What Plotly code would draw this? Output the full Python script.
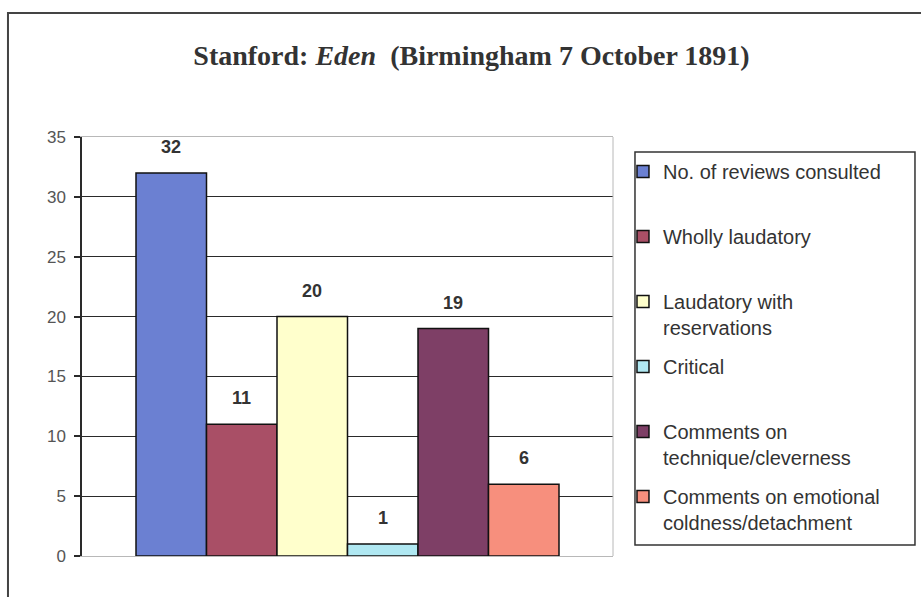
import plotly.graph_objects as go

# review counts for Stanford's Eden, one bar per category
categories = [
    "No. of reviews consulted",
    "Wholly laudatory",
    "Laudatory with<br>reservations",
    "Critical",
    "Comments on<br>technique/cleverness",
    "Comments on emotional<br>coldness/detachment",
]
counts = [32, 11, 20, 1, 19, 6]
colors = ["#6B80D2", "#A94F66", "#FFFFCC", "#B0E8F2", "#7E3F66", "#F78F7D"]
y_ticks = [0, 5, 10, 15, 20, 25, 30, 35]

fig = go.Figure()

for i, (name, val, col) in enumerate(zip(categories, counts, colors)):
    # pad single-line entries to two lines so every legend entry has the same height
    label = name if "<br>" in name else name + "<br>\u00a0"
    fig.add_trace(go.Bar(
        x=[i], y=[val], name=label, width=1,
        marker=dict(color=col, line=dict(color="#111111", width=1.5)),
        legendgroup=str(i), hoverinfo="y",
    ))
    fig.add_annotation(
        x=i, y=val, text=str(val), showarrow=False, yshift=26,
        font=dict(family="Liberation Sans, Arial", size=18, color="#333333", weight="bold"),
    )

n = len(counts)
pad = 0.766

fig.update_layout(
    width=921, height=597,
    margin=dict(l=82, r=308, t=137, b=41),
    paper_bgcolor="white", plot_bgcolor="white",
    barmode="overlay",
    title=dict(
        text="Stanford: <i>Eden</i>  (Birmingham 7 October 1891)",
        x=471.5 / 921, xref="container", xanchor="center",
        y=1 - 55 / 597, yref="container", yanchor="middle",
        font=dict(family="Liberation Serif, Times New Roman", size=28, color="#333333", weight="bold"),
    ),
    xaxis=dict(
        range=[-0.5 - pad, n - 0.5 + pad], showticklabels=False, ticks="",
        showgrid=False, zeroline=False,
        showline=True, mirror=True, linecolor="#b8b8b8", linewidth=1,
    ),
    yaxis=dict(
        range=[0, 35], tickvals=y_ticks, showgrid=True, gridcolor="#2a2a2a", gridwidth=1.3,
        zeroline=False, showline=True, linecolor="#2a2a2a", linewidth=1.5,
        ticks="outside", ticklen=6, tickcolor="#2a2a2a", tickwidth=1.5,
        ticklabelstandoff=5,
        tickfont=dict(family="Liberation Sans, Arial", size=17, color="#555555"),
    ),
    legend=dict(
        x=1.0414 - 12 / 531, y=0.964, xanchor="left", yanchor="top",
        bgcolor="rgba(0,0,0,0)", borderwidth=0,
        font=dict(family="Liberation Sans, Arial", size=20, color="#333333"),
        valign="top", traceorder="grouped", tracegroupgap=10,
        itemwidth=30,
    ),
    showlegend=True,
    shapes=[
        # outer chart frame (runs off the right and bottom edges like the scan)
        dict(type="rect", xref="paper", yref="paper", x0=-0.1394, x1=1.7, y0=-0.2, y1=1.296,
             line=dict(color="#444444", width=2), layer="below"),
        # right edge of plot area
        dict(type="line", xref="paper", yref="paper", x0=1, x1=1, y0=0, y1=1,
             line=dict(color="#b8b8b8", width=1)),
        # legend box
        dict(type="rect", xref="paper", yref="paper", x0=1.0414, x1=1.5687, y0=0.0263, y1=0.964,
             line=dict(color="#333333", width=1.5)),
    ],
)

# drop the page's default body margin so the figure sits at the window corner
fig.write_html(
    "out.html",
    config={"displayModeBar": False},
    post_script="document.body.style.margin='0';document.body.style.overflow='hidden';",
)
